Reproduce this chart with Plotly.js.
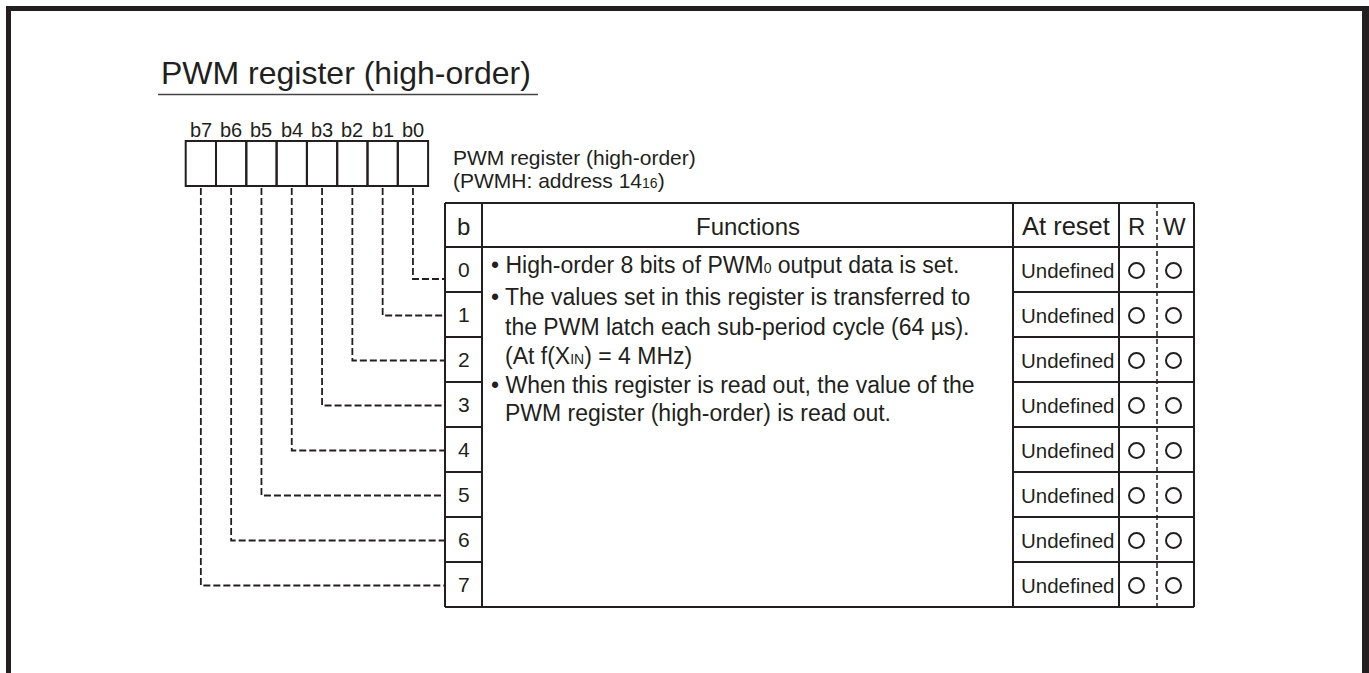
<!DOCTYPE html>
<html>
<head>
<meta charset="utf-8">
<script src="https://cdn.plot.ly/plotly-3.0.1.min.js"></script>
<style>
html,body{margin:0;padding:0;background:#fff;}
#chart{width:1369px;height:673px;}
</style>
</head>
<body>
<div id="chart"></div>
<script>
// ---------- content ----------
const titleText = 'PWM register (high-order)';
const bitLabels = ['b7', 'b6', 'b5', 'b4', 'b3', 'b2', 'b1', 'b0'];
const registerName = 'PWM register (high-order)';
const registerAddress = '(PWMH: address 14<span style="font-size:14px">16</span>)';
const headers = ['b', 'Functions', 'At reset', 'R', 'W'];
const bitNumbers = [0, 1, 2, 3, 4, 5, 6, 7];
const atReset = ['Undefined', 'Undefined', 'Undefined', 'Undefined', 'Undefined', 'Undefined', 'Undefined', 'Undefined'];
const readable = ['O', 'O', 'O', 'O', 'O', 'O', 'O', 'O'];
const writable = ['O', 'O', 'O', 'O', 'O', 'O', 'O', 'O'];
const functionLines = [
  '\u2022 High-order 8 bits of PWM<span style="font-size:14px">0</span> output data is set.',
  '\u2022 The values set in this register is transferred to',
  'the PWM latch each sub-period cycle (64 \u00b5s).',
  '(At f(X<span style="font-size:14px">IN</span>) = 4 MHz)',
  '\u2022 When this register is read out, the value of the',
  'PWM register (high-order) is read out.'
];
const functionIndent = [0, 0, 1, 1, 0, 1];

// ---------- layout geometry ----------
const INK = '#231f20';
const FONT = 'Liberation Sans, Arial, Helvetica, sans-serif';
const boxLeft = 185.7, boxW = 30.3, boxTop = 141, boxBottom = 186;
const tblLeft = 445, colB = 482, colF = 1013, colA = 1119, colRW = 1157, tblRight = 1194;
const tblTop = 203, rowTop = 247, rowH = 45;
const nRows = bitNumbers.length;
const tblBottom = rowTop + rowH * nRows;
const rowCenter = i => rowTop + rowH * (i + 0.5);

const shapes = [];
const annotations = [];
const line = (x0, y0, x1, y1, w, dash, color) => shapes.push({
  type: 'line', xref: 'x', yref: 'y', x0, y0, x1, y1,
  line: {color: color || INK, width: w || 1.8, dash: dash || 'solid'}
});
const txt = (x, y, text, size, xanchor) => annotations.push({
  xref: 'x', yref: 'y', x, y, text, showarrow: false,
  xanchor: xanchor || 'center', yanchor: 'middle',
  font: {family: FONT, size, color: INK}
});

// outer frame (top, left, right)
line(6, 8.5, 1369, 8.5, 5);
line(8.5, 6, 8.5, 673, 5);
line(1365.5, 6, 1365.5, 673, 7);

// title + underline
txt(159, 73, titleText, 32, 'left');
line(158, 94.5, 538, 94.5, 1.5, 'solid', '#444');

// bit boxes + labels
bitLabels.forEach((lab, k) => {
  const x0 = boxLeft + k * boxW;
  shapes.push({type: 'rect', xref: 'x', yref: 'y', x0, x1: x0 + boxW, y0: boxTop, y1: boxBottom,
    line: {color: INK, width: 2}, fillcolor: 'rgba(0,0,0,0)'});
  txt(x0 + boxW / 2, 130, lab, 20);
});

// register name
txt(451, 157, registerName, 21, 'left');
txt(451, 180, registerAddress, 21, 'left');

// dashed connectors from bit boxes to table rows
bitNumbers.forEach(b => {
  const x = boxLeft + (nRows - 1 - b + 0.5) * boxW;
  const y = b === 0 ? rowCenter(0) + 9.5 : rowCenter(b) + 1;
  shapes.push({type: 'path', xref: 'x', yref: 'y',
    path: `M ${x} ${boxBottom + 2} V ${y} H ${tblLeft}`,
    line: {color: INK, width: 1.8, dash: '7px,3px'}});
});

// table frame
[tblLeft, colB, colF, colA, tblRight].forEach(x => line(x, tblTop, x, tblBottom, 2));
line(colRW, tblTop, colRW, tblBottom, 1.5, '5px,3px');
line(tblLeft, tblTop, tblRight, tblTop, 2);
line(tblLeft, rowTop, tblRight, rowTop, 2);
line(tblLeft, tblBottom, tblRight, tblBottom, 2);
for (let i = 1; i < nRows; i++) {
  line(tblLeft, rowTop + rowH * i, colB, rowTop + rowH * i, 2);
  line(colF, rowTop + rowH * i, tblRight, rowTop + rowH * i, 2);
}

// header
const hx = [(tblLeft + colB) / 2, (colB + colF) / 2, (colF + colA) / 2, 1136, 1174.5];
const hs = [24, 24, 25.5, 24, 24];
headers.forEach((h, k) => txt(hx[k], 226, h, hs[k]));

// rows
bitNumbers.forEach((b, i) => {
  txt((tblLeft + colB) / 2, rowCenter(i), String(b), 21);
  txt((colF + colA) / 2 + 1, rowCenter(i) + 1, atReset[i], 20.5);
});

// function description lines
const lineY = [265, 297, 327, 356, 385, 413];
functionLines.forEach((t, k) => {
  txt(functionIndent[k] ? 503 : 489, lineY[k], t, 23, 'left');
});

// R / W circle marks
const markR = {x: [], y: []}, markW = {x: [], y: []};
bitNumbers.forEach((b, i) => {
  if (readable[i] === 'O') { markR.x.push(1136.5); markR.y.push(rowCenter(i) + 1); }
  if (writable[i] === 'O') { markW.x.push(1173.5); markW.y.push(rowCenter(i) + 1); }
});
const markStyle = {symbol: 'circle-open', size: 15, color: INK, line: {width: 2, color: INK}};
const data = [
  {type: 'scatter', mode: 'markers', x: markR.x, y: markR.y, marker: markStyle, hoverinfo: 'skip'},
  {type: 'scatter', mode: 'markers', x: markW.x, y: markW.y, marker: markStyle, hoverinfo: 'skip'}
];

const layout = {
  width: 1369, height: 673,
  margin: {l: 0, r: 0, t: 0, b: 0, pad: 0},
  paper_bgcolor: '#fff', plot_bgcolor: '#fff',
  showlegend: false,
  xaxis: {range: [0, 1369], visible: false, fixedrange: true},
  yaxis: {range: [673, 0], visible: false, fixedrange: true},
  shapes, annotations
};
Plotly.newPlot('chart', data, layout, {staticPlot: true, displayModeBar: false});
</script>
</body>
</html>
